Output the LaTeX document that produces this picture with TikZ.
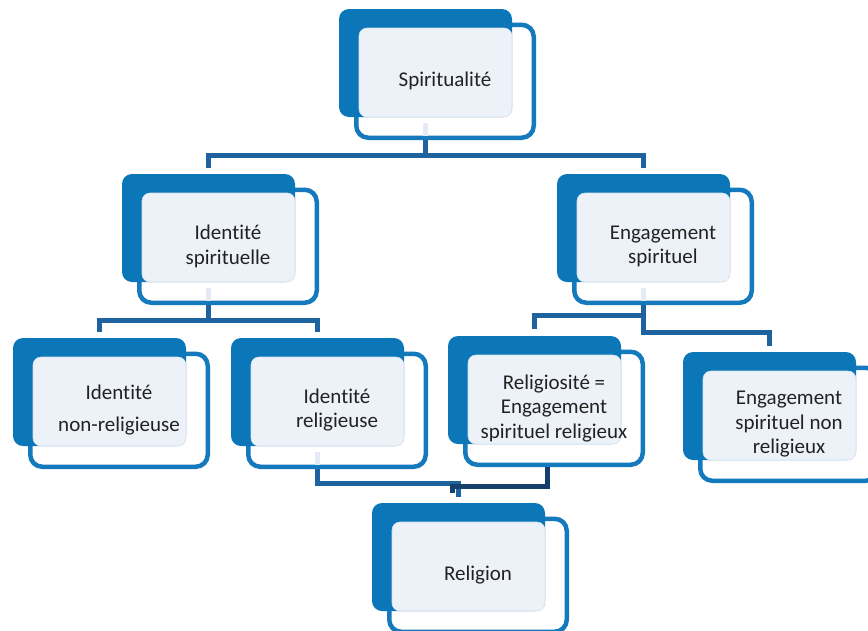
\documentclass[tikz,border=0pt]{standalone}
\usepackage{fontspec}
\setmainfont{Carlito}[Ligatures=NoCommon, RawFeature={-liga;-dlig}]
\usetikzlibrary{calc}
\definecolor{bback}{HTML}{0B76B8}
\definecolor{bline}{HTML}{1479BD}
\definecolor{lfill}{HTML}{EDF2F9}
\definecolor{lbord}{HTML}{D3DFEC}
\definecolor{connc}{HTML}{1E63A0}
\definecolor{conndk}{HTML}{163F6C}
\definecolor{stubc}{HTML}{E4EBF5}
\definecolor{txtc}{HTML}{222222}
\newcommand\orgbox[4]{%
  \node[outl] (#1O) at (#2+106, #3+72.25) {};
  \node[back] (#1B) at (#2+86.5, #3+54) {};
  \node[lite] (#1L) at (#2+96.5, #3+63.5) {};
  \node[lbl] (#1) at (#1O.center) {#4};
}
\begin{document}
\begin{tikzpicture}[x=1pt,y=-1pt,
  back/.style={fill=bback, draw=none, rounded corners=10pt, minimum width=173pt, minimum height=108pt, inner sep=0pt, outer sep=0pt},
  outl/.style={draw=bline, line width=4.5pt, fill=white, rounded corners=12pt, minimum width=177.5pt, minimum height=113pt, inner sep=0pt},
  lite/.style={fill=lfill, draw=lbord, line width=0.6pt, rounded corners=8pt, minimum width=153pt, minimum height=89pt, inner sep=0pt, outer sep=0pt},
  lbl/.style={align=center, text=txtc, inner sep=0pt, font=\fontsize{21}{24.5}\selectfont},
  cl/.style={draw=connc, line width=5pt},
  cld/.style={draw=conndk, line width=5pt},
  stl/.style={draw=stubc, line width=5pt}]
\useasboundingbox (0,0) rectangle (868,630);
\fill[white] (0,0) rectangle (868,630);
\clip (0,0) rectangle (868,630);

\orgbox{sp}{339}{9}{Spiritualité}
\orgbox{is}{122}{174}{Identité\\spirituelle}
\orgbox{es}{557}{174}{Engagement\\spirituel}
\orgbox{inr}{13}{338}{Identité\\[8pt]non-religieuse}
\orgbox{ir}{231}{338}{Identité\\religieuse}
\orgbox{rel}{448}{336}{Religiosité =\\Engagement\\spirituel religieux}
\orgbox{esnr}{683}{352}{Engagement\\spirituel non\\religieux}
\orgbox{rg}{372}{503}{Religion}

% light stubs
\foreach \n in {sp,is,es,ir}{
  \draw[stl] ($(\n B.south)+(0,6)$) -- ($(\n B.south |- \n O.south)+(0,-4.5)$);
}

% connectors
\draw[cl] (spB.south |- spO.south) -- ++(0,15) coordinate (j1);
\draw[cl] ($(isB.north)+(0,-6)$) |- (j1) -| ($(esB.north)+(0,-6)$);

\draw[cl] (isB.south |- isO.south) -- ++(0,15) coordinate (j2);
\draw[cl] ($(inrB.north)+(0,-6)$) |- (j2) -| ($(irB.north)+(0,-6)$);

\draw[cl] (esB.south |- esO.south) -- ++(0,27) -| ($(esnrB.north)+(0,-6)$);
\coordinate (j3) at ($(esB.south |- esO.south)+(0,10)$);
\draw[cl] (j3) -| ($(relB.north)+(0,-7)$);

\draw[cl] (irB.south |- irO.south) -- ++(0,14) -| ($(rgB.north)+(0,-6)$);
\draw[cld] ($(relB.south |- relO.south)+(13,0)$) -- ++(0,19) -| ($(rgB.north)+(-6,-10)$);
\end{tikzpicture}
\end{document}
